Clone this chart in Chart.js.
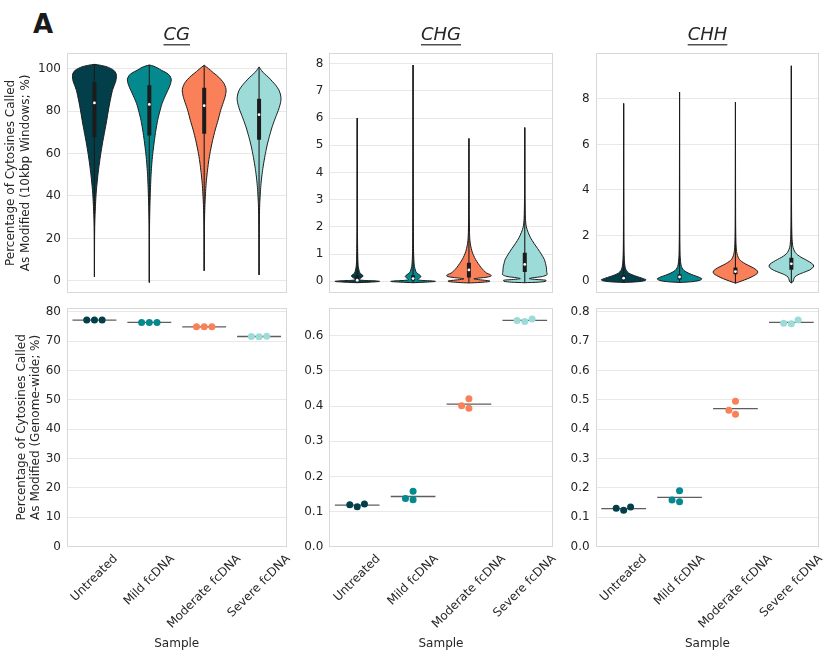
<!DOCTYPE html>
<html>
<head>
<meta charset="utf-8">
<script src="https://cdn.jsdelivr.net/npm/chart.js@4"></script>
<style>
html,body{margin:0;padding:0;background:#fff;width:835px;height:662px;overflow:hidden;}
canvas{position:absolute;left:0;top:0;}
#panelA{position:absolute;left:33px;top:11px;font:bold 26px/26px 'DejaVu Sans',sans-serif;color:#1a1a1a;}
</style>
</head>
<body>
<div id="panelA">A</div>
<canvas id="c1" width="835" height="662"></canvas>
<canvas id="c2" width="835" height="662"></canvas>
<canvas id="c3" width="835" height="662"></canvas>
<canvas id="c4" width="835" height="662"></canvas>
<canvas id="c5" width="835" height="662"></canvas>
<canvas id="c6" width="835" height="662"></canvas>
<script>
// ---------------- DATA ----------------
const categories = ['Untreated', 'Mild fcDNA', 'Moderate fcDNA', 'Severe fcDNA'];
const contexts = ['CG', 'CHG', 'CHH'];
const sampleColors = ['#033f4b', '#04898f', '#f98058', '#9cdbd8'];

// Violin outlines (10kbp windows): [value %, relative half-width of density]
const cgShapes = [
  [[1.8,0],[10,0.003],[18,0.006],[25,0.012],[30,0.025],[35,0.045],[40,0.07],[45,0.11],[50,0.16],[55,0.22],[60,0.29],[65,0.37],[70,0.46],[75.6,0.56],[80,0.63],[85,0.72],[89.7,0.82],[92,0.9],[94,0.97],[96,1.0],[97.5,0.99],[99.2,0.88],[100.8,0.58],[101.6,0.25],[102.0,0]],
  [[-0.8,0],[5,0.003],[15,0.005],[25,0.01],[32,0.02],[38,0.035],[44,0.055],[50,0.08],[56,0.12],[61,0.17],[66,0.23],[71,0.3],[75.6,0.38],[79.5,0.47],[83.5,0.58],[86.5,0.7],[89.7,0.84],[91,0.9],[93,0.97],[95,1.0],[96.8,0.92],[98,0.78],[99.2,0.55],[100.3,0.38],[101.2,0.18],[101.7,0]],
  [[4.7,0],[12,0.004],[22,0.008],[30,0.018],[36,0.035],[41,0.06],[46,0.09],[51,0.14],[56,0.2],[61,0.28],[66,0.38],[71,0.5],[75.6,0.63],[80.3,0.75],[84,0.87],[87,0.96],[89.5,1.0],[91,0.98],[93,0.9],[95,0.75],[96.8,0.57],[98,0.42],[99.2,0.29],[100.8,0.1],[101.6,0]],
  [[2.8,0],[10,0.003],[20,0.006],[30,0.015],[36,0.03],[40,0.05],[44,0.075],[48,0.11],[52,0.16],[56,0.22],[60,0.29],[64,0.37],[68,0.47],[72,0.58],[75,0.68],[78,0.79],[81,0.9],[84,0.98],[86,1.0],[88,0.97],[90,0.9],[92,0.77],[94,0.6],[96,0.42],[97.5,0.25],[99,0.12],[100,0.05],[100.8,0]]
];
const chgShapes = [
  [[-0.05,0],[-0.03,0.55],[-0.01,0.95],[0,1.0],[0.015,0.85],[0.03,0.4],[0.05,0.12],[0.08,0.1],[0.12,0.16],[0.17,0.24],[0.21,0.26],[0.25,0.2],[0.3,0.13],[0.37,0.09],[0.55,0.045],[0.8,0.028],[1.2,0.018],[2,0.01],[3.5,0.005],[6.0,0]],
  [[-0.05,0],[-0.03,0.55],[-0.01,0.95],[0,1.0],[0.015,0.85],[0.03,0.45],[0.06,0.2],[0.1,0.25],[0.15,0.33],[0.19,0.35],[0.24,0.28],[0.3,0.18],[0.37,0.12],[0.55,0.06],[0.8,0.035],[1.2,0.02],[2,0.011],[3.5,0.006],[5.5,0.003],[7.95,0]],
  [[-0.06,0],[-0.04,0.5],[-0.01,0.9],[0.01,0.94],[0.04,0.7],[0.07,0.35],[0.09,0.22],[0.12,0.45],[0.16,0.85],[0.2,1.0],[0.25,0.95],[0.3,0.8],[0.4,0.66],[0.5,0.55],[0.65,0.42],[0.8,0.3],[0.95,0.21],[1.1,0.14],[1.3,0.08],[1.5,0.045],[1.8,0.025],[2.5,0.012],[3.5,0.006],[4.5,0.003],[5.25,0]],
  [[-0.05,0],[-0.03,0.6],[0,0.93],[0.04,0.95],[0.07,0.5],[0.1,0.2],[0.13,0.35],[0.18,0.8],[0.25,1.0],[0.35,0.98],[0.5,0.97],[0.65,0.93],[0.8,0.88],[1.0,0.74],[1.2,0.58],[1.4,0.41],[1.6,0.26],[1.8,0.15],[2.0,0.07],[2.3,0.03],[3,0.012],[4,0.006],[5,0.003],[5.65,0]]
];
const chhShapes = [
  [[-0.06,0],[-0.03,0.6],[0.02,0.95],[0.06,1.0],[0.12,0.85],[0.2,0.6],[0.28,0.38],[0.36,0.22],[0.45,0.13],[0.6,0.07],[0.8,0.04],[1.2,0.02],[2,0.01],[4,0.005],[7.8,0]],
  [[-0.06,0],[-0.03,0.5],[0.03,0.9],[0.1,1.0],[0.18,0.85],[0.26,0.62],[0.34,0.42],[0.43,0.25],[0.52,0.15],[0.65,0.08],[0.85,0.045],[1.2,0.022],[2,0.01],[4,0.005],[8.3,0]],
  [[-0.09,0],[-0.04,0.15],[0.05,0.4],[0.15,0.65],[0.25,0.85],[0.33,0.97],[0.4,1.0],[0.48,0.95],[0.58,0.8],[0.68,0.6],[0.76,0.44],[0.86,0.28],[0.96,0.17],[1.05,0.12],[1.2,0.07],[1.4,0.04],[1.8,0.02],[2.5,0.01],[4,0.005],[7.85,0]],
  [[-0.08,0],[-0.04,0.06],[0.05,0.1],[0.12,0.12],[0.18,0.15],[0.28,0.3],[0.38,0.55],[0.48,0.8],[0.58,0.95],[0.66,1.0],[0.75,0.95],[0.85,0.8],[0.95,0.62],[1.05,0.43],[1.15,0.28],[1.25,0.18],[1.4,0.1],[1.55,0.06],[1.9,0.03],[2.5,0.015],[4,0.006],[6,0.003],[9.45,0]]
];

// Inner box: [q1, median, q3]
const cgBoxes  = [[67.7, 83.8, 93.7], [68.5, 83.1, 92.1], [69.3, 82.5, 91.0], [66.5, 78.3, 85.8]];
const chgBoxes = [[0.02, 0.04, 0.22], [0.03, 0.10, 0.22], [0.14, 0.42, 0.68], [0.34, 0.62, 1.05]];
const chhBoxes = [[0.04, 0.13, 0.25], [0.07, 0.18, 0.30], [0.30, 0.42, 0.60], [0.50, 0.76, 1.02]];

// Genome-wide replicates (%)
const cgGenome  = [[77.2, 77.2, 77.2], [76.4, 76.4, 76.4], [74.9, 74.9, 74.9], [71.6, 71.5, 71.7]];
const chgGenome = [[0.1194, 0.1137, 0.1213], [0.137, 0.1336, 0.158], [0.401, 0.394, 0.421], [0.6436, 0.6408, 0.6474]];
const chhGenome = [[0.1305, 0.1237, 0.1351], [0.1589, 0.1532, 0.1907], [0.4642, 0.4506, 0.4949], [0.7605, 0.7594, 0.7719]];

// Tick values
const cgWindowTicks  = [0, 20, 40, 60, 80, 100];
const chgWindowTicks = [0, 1, 2, 3, 4, 5, 6, 7, 8];
const chhWindowTicks = [0, 2, 4, 6, 8];
const cgGenomeTicks  = [0, 10, 20, 30, 40, 50, 60, 70, 80];
const chgGenomeTicks = [0, 0.1, 0.2, 0.3, 0.4, 0.5, 0.6];
const chhGenomeTicks = [0, 0.1, 0.2, 0.3, 0.4, 0.5, 0.6, 0.7, 0.8];

const windowYTitle = ['Percentage of Cytosines Called', 'As Modified (10kbp Windows; %)'];
const genomeYTitle = ['Percentage of Cytosines Called', 'As Modified (Genome-wide; %)'];
const xTitle = 'Sample';

// ---------------- STYLE / LAYOUT ----------------
const W = 835, H = 662;
const TXT = '#262626', GRID = '#e8e8e8', FRAME = '#d8d8d8', EDGE = '#1c1c1c', MEANC = '#5e5e5e';
const FONT = "'DejaVu Sans', 'Liberation Sans', sans-serif";
const HALF = 0.4;
const TITLE_SIZE = 18, TITLE_PB = 7.5;
const cols = [{l: 67, r: 286.5}, {l: 329.3, r: 552.7}, {l: 595.7, r: 819.3}];
const topRow = {t: 53.3, b: 292.5}, botRow = {t: 308, b: 546.7};

const framePlugin = {
  id: 'frame',
  beforeDatasetsDraw(chart) {
    const {ctx, chartArea: a} = chart;
    ctx.save();
    ctx.strokeStyle = FRAME; ctx.lineWidth = 1;
    ctx.strokeRect(Math.round(a.left) + 0.5, Math.round(a.top) + 0.5,
      Math.round(a.right) - Math.round(a.left) - 1, Math.round(a.bottom) - Math.round(a.top) - 1);
    ctx.restore();
  }
};
const underlinePlugin = {
  id: 'underline',
  afterDraw(chart) {
    const t = chart.titleBlock;
    if (!t || !t.options.display) return;
    const ctx = chart.ctx;
    ctx.save();
    ctx.font = 'italic ' + TITLE_SIZE + 'px ' + FONT;
    const w = ctx.measureText(t.options.text).width;
    const cx = (t.left + t.right) / 2;
    const y = t.top + TITLE_SIZE * 1.2 / 2 + 9.2;
    ctx.fillStyle = TXT;
    ctx.fillRect(cx - w / 2, y, w, 1.2);
    ctx.restore();
  }
};
const xLabelPlugin = {
  id: 'xlabels',
  afterDraw(chart, args, opts) {
    if (!opts || !opts.show) return;
    const {ctx} = chart;
    const xs = chart.scales.x;
    const top = chart.chartArea.bottom + opts.pad;
    ctx.save();
    ctx.font = '12px ' + FONT;
    ctx.fillStyle = TXT;
    ctx.textAlign = 'center';
    ctx.textBaseline = 'middle';
    categories.forEach((lab, i) => {
      const w = ctx.measureText(lab).width;
      const half = (w + 12) / (2 * Math.SQRT2);
      ctx.save();
      ctx.translate(xs.getPixelForValue(i), top + half);
      ctx.rotate(-Math.PI / 4);
      ctx.fillText(lab, 0, 0);
      ctx.restore();
    });
    ctx.restore();
  }
};

function violinDatasets(shapes, boxes) {
  const ds = [];
  shapes.forEach((shape, i) => {
    const right = shape.map(([v, w]) => ({x: i + w * HALF, y: v}));
    const left = shape.slice().reverse().map(([v, w]) => ({x: i - w * HALF, y: v}));
    ds.push({type: 'line', data: right.concat(left), borderColor: EDGE, borderWidth: 1,
      borderJoinStyle: 'round', backgroundColor: sampleColors[i], fill: 'shape',
      pointRadius: 0, tension: 0.25, order: 3});
    const lo = shape[0][0], hi = shape[shape.length - 1][0];
    ds.push({type: 'line', data: [{x: i, y: lo}, {x: i, y: hi}], borderColor: EDGE,
      borderWidth: 1.1, pointRadius: 0, fill: false, order: 2});
    const [q1, med, q3] = boxes[i];
    ds.push({type: 'line', data: [{x: i, y: q1}, {x: i, y: q3}], borderColor: EDGE,
      borderWidth: 4, borderCapStyle: 'butt', pointRadius: 0, fill: false, order: 1});
    ds.push({type: 'scatter', data: [{x: i, y: med}], pointRadius: 1.4,
      backgroundColor: '#ffffff', borderWidth: 0, order: 0});
  });
  return ds;
}

function stripDatasets(groups) {
  const ds = [];
  groups.forEach((vals, i) => {
    const mean = vals.reduce((a, b) => a + b, 0) / vals.length;
    ds.push({type: 'line', data: [{x: i - 0.4, y: mean}, {x: i + 0.4, y: mean}],
      borderColor: MEANC, borderWidth: 1.3, pointRadius: 0, fill: false, order: 1});
    ds.push({type: 'scatter', data: vals.map(v => ({x: i, y: v})), cat: i,
      backgroundColor: sampleColors[i], borderWidth: 0, pointRadius: 3.5, order: 0});
  });
  return ds;
}

function swarm(chart, d) {
  const xs = chart.scales.x, ys = chart.scales.y;
  const pxPerX = xs.getPixelForValue(1) - xs.getPixelForValue(0);
  chart.data.datasets.forEach(ds => {
    if (ds.type !== 'scatter' || ds.cat === undefined) return;
    const pts = ds.data;
    const order = pts.map((p, k) => k).sort((a, b) => pts[a].y - pts[b].y || a - b);
    const placed = [];
    order.forEach(k => {
      const y = ys.getPixelForValue(pts[k].y);
      const cands = [0];
      placed.forEach(p => {
        const dy = Math.abs(p.y - y);
        if (dy < d) { const dx = Math.sqrt(d * d - dy * dy); cands.push(p.x - dx, p.x + dx); }
      });
      cands.sort((a, b) => (Math.abs(a) - Math.abs(b)) || (a - b));
      let best = 0;
      for (const c of cands) {
        if (placed.every(p => (p.x - c) ** 2 + (p.y - y) ** 2 >= d * d - 1e-6)) { best = c; break; }
      }
      placed.push({x: best, y});
      pts[k].x = ds.cat + best / pxPerX;
    });
  });
  chart.update('none');
}

function makeChart(id, o) {
  const titleH = o.title ? TITLE_SIZE * 1.2 + TITLE_PB : 0;
  const xH = o.bottom ? H - o.rect.b : 0;
  return new Chart(document.getElementById(id), {
    type: 'scatter',
    data: {datasets: o.datasets},
    plugins: [framePlugin, underlinePlugin, xLabelPlugin],
    options: {
      responsive: false, animation: false, events: [],
      layout: {padding: {left: 0, right: W - o.rect.r, top: o.rect.t - titleH, bottom: o.bottom ? 0 : H - o.rect.b}},
      plugins: {
        legend: {display: false}, tooltip: {enabled: false},
        title: {display: !!o.title, text: o.title || '', fullSize: false, color: TXT,
          font: {family: FONT, size: TITLE_SIZE, style: 'italic', weight: 'normal', lineHeight: 1.2},
          padding: {top: 0, bottom: TITLE_PB}},
        xlabels: {show: !!o.bottom, pad: 6}
      },
      scales: {
        x: {type: 'linear', min: -0.5, max: 3.5, display: !!o.bottom,
          grid: {display: false}, border: {display: false}, ticks: {display: false},
          title: {display: !!o.bottom, text: xTitle, color: TXT, font: {family: FONT, size: 12, lineHeight: 1.2},
            padding: {top: 0, bottom: 10.6}},
          afterFit: s => { s.height = xH; }},
        y: {type: 'linear', min: o.yMin, max: o.yMax, border: {display: false},
          grid: {color: GRID, drawTicks: false, lineWidth: 1},
          ticks: {color: TXT, font: {family: FONT, size: 12}, padding: 6, autoSkip: false,
            callback: v => Number(v).toFixed(o.decimals)},
          afterBuildTicks: s => { s.ticks = o.ticks.map(v => ({value: v})); },
          title: {display: !!o.yTitle, text: o.yTitle || '', color: TXT,
            font: {family: FONT, size: 12, lineHeight: 1.2}, padding: {top: o.yTitlePad || 0, bottom: 0}},
          afterFit: s => { s.width = o.rect.l; }}
      }
    }
  });
}

const r = (c, row) => ({l: cols[c].l, r: cols[c].r, t: row.t, b: row.b});

makeChart('c1', {rect: r(0, topRow), title: contexts[0], yTitle: windowYTitle, yTitlePad: 4.1,
  yMin: -5.5, yMax: 107.2, ticks: cgWindowTicks, decimals: 0, datasets: violinDatasets(cgShapes, cgBoxes)});
makeChart('c2', {rect: r(1, topRow), title: contexts[1],
  yMin: -0.41, yMax: 8.38, ticks: chgWindowTicks, decimals: 0, datasets: violinDatasets(chgShapes, chgBoxes)});
makeChart('c3', {rect: r(2, topRow), title: contexts[2],
  yMin: -0.5, yMax: 10.0, ticks: chhWindowTicks, decimals: 0, datasets: violinDatasets(chhShapes, chhBoxes)});

const g1 = makeChart('c4', {rect: r(0, botRow), bottom: true, yTitle: genomeYTitle, yTitlePad: 14.4,
  yMin: 0, yMax: 81.3, ticks: cgGenomeTicks, decimals: 0, datasets: stripDatasets(cgGenome)});
const g2 = makeChart('c5', {rect: r(1, botRow), bottom: true,
  yMin: 0, yMax: 0.679, ticks: chgGenomeTicks, decimals: 1, datasets: stripDatasets(chgGenome)});
const g3 = makeChart('c6', {rect: r(2, botRow), bottom: true,
  yMin: 0, yMax: 0.8126, ticks: chhGenomeTicks, decimals: 1, datasets: stripDatasets(chhGenome)});
[g1, g2, g3].forEach(c => swarm(c, 7.7));
</script>
</body>
</html>
